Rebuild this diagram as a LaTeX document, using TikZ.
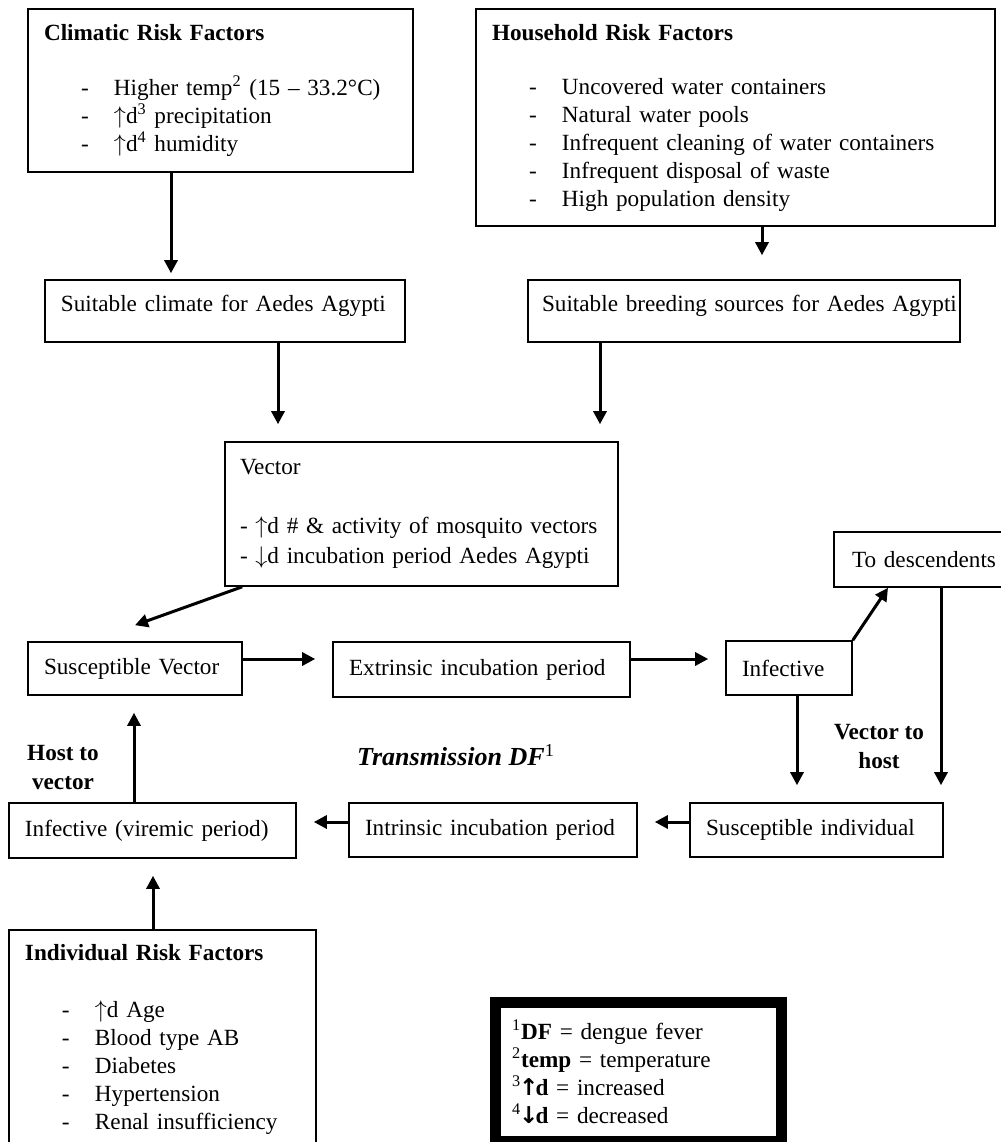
\documentclass[tikz,border=0pt]{standalone}
\usepackage{fontspec}
\setmainfont{Liberation Serif}
\newfontfamily\arrowfont{DejaVu Sans}
\usepackage{tikz}
\usetikzlibrary{arrows.meta}

\newcommand{\riskline}[1]{\mbox{\hspace*{18.5pt}\makebox[16.5pt][l]{-}#1}}

\begin{document}
\begin{tikzpicture}[
    x=0.5pt, y=-0.5pt,
    panel/.style={rectangle, draw, line width=0.8pt, align=left, inner xsep=8pt, inner ysep=0pt, font=\fontsize{11.6}{14}\selectfont},
    tall/.style={text height=15.5pt, text depth=15.5pt},
    lbl/.style={align=center, font=\bfseries\fontsize{11.6}{14.5}\selectfont},
    arr/.style={-{Triangle[length=6.5pt, width=6.5pt]}, line width=1.5pt, shorten >=8.5pt}
]
    \useasboundingbox (0,0) rectangle (1001,1142);

    % risk factor panels
    \node [panel, text width=176.5pt, minimum height=81.5pt] (clim) at (220.5,90.5)
        {\mbox{\textbf{Climatic Risk Factors}}\\[13.5pt]
         \riskline{Higher temp\textsuperscript{2} (15 – 33.2°C)}\\
         \riskline{$\uparrow$d\textsuperscript{3} precipitation}\\
         \riskline{$\uparrow$d\textsuperscript{4} humidity}};
    \node [panel, text width=243.5pt, minimum height=108.5pt] (house) at (735.5,117.5)
        {\mbox{\textbf{Household Risk Factors}}\\[13pt]
         \riskline{Uncovered water containers}\\
         \riskline{Natural water pools}\\
         \riskline{Infrequent cleaning of water containers}\\
         \riskline{Infrequent disposal of waste}\\
         \riskline{High population density}};
    \node [panel, tall, text width=164pt] (suitclim) at (225,311) {\mbox{Suitable climate for Aedes Agypti}};
    \node [panel, tall, inner xsep=7pt, text width=202pt] (suitbreed) at (744,311) {\mbox{Suitable breeding sources for Aedes Agypti}};
    \node [panel, inner xsep=7.5pt, text width=181.5pt, minimum height=72pt] (vector) at (421.5,514)
        {Vector\\[15.5pt]
         \mbox{- $\uparrow$d \# \& activity of mosquito vectors}\\[1pt]
         \mbox{- $\downarrow$d incubation period Aedes Agypti}};

    % transmission cycle
    \node [panel, text width=91pt, minimum height=26.5pt] (suscvec) at (135,668.5) {\mbox{Susceptible Vector}};
    \node [panel, text width=132.5pt, minimum height=27.5pt] (extr) at (481.5,669.5) {\mbox{Extrinsic incubation period}};
    \node [panel, text width=47pt, minimum height=27pt] (infective) at (789,668) {Infective};
    \node [panel, inner xsep=9pt, text width=66.5pt, minimum height=27.5pt] (todesc) at (918.5,559.5) {\mbox{To descendents}};
    \node [panel, text width=110.5pt, minimum height=27pt] (suscind) at (816.5,830) {\mbox{Susceptible individual}};
    \node [panel, text width=128pt, minimum height=27pt] (intr) at (493,830) {\mbox{Intrinsic incubation period}};
    \node [panel, text width=127.5pt, minimum height=27.5pt] (viremic) at (152.5,830.5) {\mbox{Infective (viremic period)}};
    \node [panel, text width=137.5pt, minimum height=109pt] (indiv) at (162.5,1039)
        {\mbox{\textbf{Individual Risk Factors}}\\[14.5pt]
         \riskline{$\uparrow$d Age}\\
         \riskline{Blood type AB}\\
         \riskline{Diabetes}\\
         \riskline{Hypertension}\\
         \riskline{Renal insufficiency}};

    % key
    \node [panel, line width=5.5pt, inner xsep=8.25pt, text width=126.5pt, minimum height=69.5pt] (legend) at (638.5,1072)
        {\mbox{\textsuperscript{1}\textbf{DF} = dengue fever}\\
         \mbox{\textsuperscript{2}\textbf{temp} = temperature}\\
         \mbox{\textsuperscript{3}\textbf{{\arrowfont\kern-1pt↑\kern-1.5pt}d} = increased}\\
         \mbox{\textsuperscript{4}\textbf{{\arrowfont\kern-1pt↓\kern-1.5pt}d} = decreased}};

    \node [lbl] (hostvec) at (63,768) {Host to\\vector};
    \node [font=\bfseries\itshape\fontsize{13}{15}\selectfont] (trans) at (456,755) {Transmission DF\textsuperscript{\normalfont 1}};
    \node [lbl] (vechost) at (879,747) {Vector to\\host};

    % arrow columns and rows
    \coordinate (climx) at (171,0);
    \coordinate (housex) at (762,0);
    \coordinate (scx) at (278,0);
    \coordinate (sbx) at (600,0);
    \coordinate (descx) at (888,0);
    \coordinate (downx) at (941,0);
    \coordinate (infx) at (797,0);
    \coordinate (hvx) at (134,0);
    \coordinate (indx) at (153,0);
    \coordinate (rowa) at (0,659);
    \coordinate (rowb) at (0,822);

    \draw [arr, shorten >=3pt] (clim.south -| climx) -- (suitclim.north -| climx);
    \draw [arr, shorten >=12pt] (house.south -| housex) -- (suitbreed.north -| housex);
    \draw [arr] (suitclim.south -| scx) -- (vector.north -| scx);
    \draw [arr] (suitbreed.south -| sbx) -- (vector.north -| sbx);
    \draw [arr, shorten >=0pt] ([xshift=9pt]vector.south west) -- ([yshift=8pt]suscvec.north);
    \draw [arr] (suscvec.east |- rowa) -- (extr.west |- rowa);
    \draw [arr] (extr.east |- rowa) -- (infective.west |- rowa);
    \draw [arr, shorten >=0pt] (infective.north east) -- (todesc.south -| descx);
    \draw [arr] (todesc.south -| downx) -- (suscind.north -| downx);
    \draw [arr] (infective.south -| infx) -- (suscind.north -| infx);
    \draw [arr] (suscind.west |- rowb) -- (intr.east |- rowb);
    \draw [arr] (intr.west |- rowb) -- (viremic.east |- rowb);
    \draw [arr] (viremic.north -| hvx) -- (suscvec.south -| hvx);
    \draw [arr] (indiv.north -| indx) -- (viremic.south -| indx);
\end{tikzpicture}
\end{document}
